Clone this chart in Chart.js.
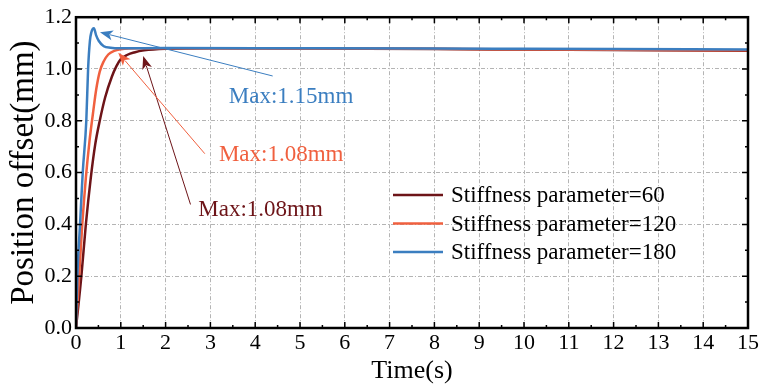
<!DOCTYPE html>
<html lang="en">
<head>
    <meta charset="UTF-8">
    <title>Position offset vs time</title>
    <style>
        body {
            margin: 0;
            background: #fff;
        }

        #wrap {
            width: 761px;
            height: 387px;
        }
    </style>
    <script src="https://cdn.jsdelivr.net/npm/chart.js"></script>
</head>
<body>
    <div id="wrap">
        <canvas id="offsetChart" width="761" height="387"></canvas>
    </div>

    <script>
        // Tick values
        var xTickValues = [0, 1, 2, 3, 4, 5, 6, 7, 8, 9, 10, 11, 12, 13, 14, 15];
        var yTickValues = [0, 0.2, 0.4, 0.6, 0.8, 1.0, 1.2];

        // Stiffness parameter = 60
        var t60 = [0, 0.12, 0.22, 0.33, 0.43, 0.53, 0.65, 0.8, 0.9, 1.0, 1.15, 1.3, 1.52, 2, 3, 5, 8, 10, 12, 15];
        var y60 = [0, 0.2, 0.4, 0.58, 0.71, 0.8, 0.89, 0.97, 1.01, 1.038, 1.055, 1.064, 1.072, 1.078, 1.08, 1.079, 1.077, 1.075, 1.073, 1.07];

        // Stiffness parameter = 120
        var t120 = [0, 0.07, 0.14, 0.22, 0.3, 0.38, 0.45, 0.53, 0.62, 0.72, 0.85, 1.0, 1.4, 2, 3, 5, 8, 10, 12, 15];
        var y120 = [0, 0.2, 0.4, 0.58, 0.72, 0.83, 0.92, 0.99, 1.03, 1.056, 1.07, 1.076, 1.08, 1.08, 1.08, 1.079, 1.078, 1.076, 1.074, 1.072];

        // Stiffness parameter = 180
        var t180 = [0, 0.03, 0.09, 0.15, 0.23, 0.27, 0.31, 0.34, 0.4, 0.45, 0.51, 0.62, 0.77, 1.0, 2, 5, 8, 10, 12, 15];
        var y180 = [0, 0.2, 0.4, 0.6, 0.8, 1.0, 1.108, 1.14, 1.157, 1.13, 1.108, 1.088, 1.082, 1.08, 1.081, 1.08, 1.079, 1.078, 1.077, 1.075];

        var seriesLabels = ['Stiffness parameter=60', 'Stiffness parameter=120', 'Stiffness parameter=180'];
        var seriesColors = ['#6d1418', '#f0603f', '#3b7ec0'];

        // Peak annotations: arrow tip, arrow tail, label anchor (data units)
        var maxLabels = ['Max:1.08mm', 'Max:1.08mm', 'Max:1.15mm'];
        var arrowTipX = [1.5, 0.943, 0.535];
        var arrowTipY = [1.05, 1.063, 1.142];
        var arrowTailX = [2.556, 2.875, 4.39];
        var arrowTailY = [0.477, 0.673, 0.973];
        var labelX = [2.73, 3.19, 3.41];
        var labelY = [0.431, 0.646, 0.870];

        var serif = "'Liberation Serif', 'Times New Roman', serif";

        function toPoints(ts, ys) {
            return ts.map(function (t, i) { return { x: t, y: ys[i] }; });
        }

        var allT = [t60, t120, t180];
        var allY = [y60, y120, y180];

        var datasets = seriesLabels.map(function (label, i) {
            return {
                label: label,
                data: toPoints(allT[i], allY[i]),
                borderColor: seriesColors[i],
                borderWidth: 2.5,
                pointRadius: 0,
                fill: false,
                cubicInterpolationMode: 'monotone',
                order: 2 - i
            };
        });

        // frame, inward ticks, arrows, labels and legend
        var decorations = {
            id: 'decorations',
            afterDraw: function (chart) {
                var ctx = chart.ctx;
                var xs = chart.scales.x;
                var ys = chart.scales.y;
                var a = chart.chartArea;

                ctx.save();

                // inward ticks on all four sides
                ctx.strokeStyle = '#000';
                ctx.lineWidth = 1.5;
                ctx.beginPath();
                for (var v = 0; v <= 15.001; v += 0.5) {
                    var px = xs.getPixelForValue(v);
                    var len = Math.abs(v - Math.round(v)) < 0.01 ? 6 : 3;
                    ctx.moveTo(px, a.bottom); ctx.lineTo(px, a.bottom - len);
                    ctx.moveTo(px, a.top); ctx.lineTo(px, a.top + len);
                }
                for (var k = 0; k <= 12; k++) {
                    var py = ys.getPixelForValue(k / 10);
                    var ylen = k % 2 === 0 ? 6 : 3;
                    ctx.moveTo(a.left, py); ctx.lineTo(a.left + ylen, py);
                    ctx.moveTo(a.right, py); ctx.lineTo(a.right - ylen, py);
                }
                ctx.stroke();

                // frame
                ctx.lineWidth = 2.5;
                ctx.strokeRect(a.left, a.top, a.right - a.left, a.bottom - a.top);

                // arrows and peak labels
                ctx.font = '23px ' + serif;
                ctx.textBaseline = 'alphabetic';
                ctx.textAlign = 'left';
                for (var i = 0; i < maxLabels.length; i++) {
                    var tx = xs.getPixelForValue(arrowTipX[i]);
                    var ty = ys.getPixelForValue(arrowTipY[i]);
                    var sx = xs.getPixelForValue(arrowTailX[i]);
                    var sy = ys.getPixelForValue(arrowTailY[i]);
                    var ang = Math.atan2(ty - sy, tx - sx);
                    var headLen = 13, headW = 5;

                    ctx.strokeStyle = seriesColors[i];
                    ctx.fillStyle = seriesColors[i];
                    ctx.lineWidth = 1;
                    ctx.beginPath();
                    ctx.moveTo(sx, sy);
                    ctx.lineTo(tx - Math.cos(ang) * headLen * 0.8, ty - Math.sin(ang) * headLen * 0.8);
                    ctx.stroke();

                    ctx.beginPath();
                    ctx.moveTo(tx, ty);
                    ctx.lineTo(tx - Math.cos(ang) * headLen - Math.sin(ang) * headW,
                               ty - Math.sin(ang) * headLen + Math.cos(ang) * headW);
                    ctx.lineTo(tx - Math.cos(ang) * headLen * 0.75, ty - Math.sin(ang) * headLen * 0.75);
                    ctx.lineTo(tx - Math.cos(ang) * headLen + Math.sin(ang) * headW,
                               ty - Math.sin(ang) * headLen - Math.cos(ang) * headW);
                    ctx.closePath();
                    ctx.fill();

                    ctx.fillText(maxLabels[i], xs.getPixelForValue(labelX[i]), ys.getPixelForValue(labelY[i]));
                }

                // legend
                var lx = 393, rowY = [195, 223.5, 252];
                ctx.textBaseline = 'middle';
                for (var j = 0; j < seriesLabels.length; j++) {
                    ctx.strokeStyle = seriesColors[j];
                    ctx.lineWidth = 2.5;
                    ctx.beginPath();
                    ctx.moveTo(lx, rowY[j]);
                    ctx.lineTo(lx + 50, rowY[j]);
                    ctx.stroke();
                    ctx.fillStyle = '#000';
                    ctx.fillText(seriesLabels[j], lx + 58, rowY[j] + 1);
                }

                ctx.restore();
            }
        };

        var chart = new Chart(document.getElementById('offsetChart').getContext('2d'), {
            type: 'line',
            data: { datasets: datasets },
            options: {
                responsive: false,
                animation: false,
                devicePixelRatio: 1,
                layout: { padding: { top: 16, right: 12, left: 0, bottom: 0 } },
                plugins: {
                    legend: { display: false },
                    tooltip: { enabled: false }
                },
                scales: {
                    x: {
                        type: 'linear',
                        min: 0,
                        max: 15,
                        afterBuildTicks: function (scale) {
                            scale.ticks = xTickValues.map(function (v) { return { value: v }; });
                        },
                        afterFit: function (scale) { scale.height = 59; },
                        ticks: {
                            color: '#000',
                            padding: 2,
                            maxRotation: 0,
                            autoSkip: false,
                            font: { family: serif, size: 22 }
                        },
                        grid: { color: '#b4b4b4', lineWidth: 1, drawTicks: false },
                        border: { display: false, dash: [4, 2, 1, 2] },
                        title: {
                            display: true,
                            text: 'Time(s)',
                            color: '#000',
                            padding: { top: 0, bottom: 0 },
                            font: { family: serif, size: 26 }
                        }
                    },
                    y: {
                        type: 'linear',
                        min: 0,
                        max: 1.2,
                        afterBuildTicks: function (scale) {
                            scale.ticks = yTickValues.map(function (v) { return { value: v }; });
                        },
                        afterFit: function (scale) { scale.width = 76; },
                        ticks: {
                            color: '#000',
                            padding: 4,
                            autoSkip: false,
                            font: { family: serif, size: 22 },
                            callback: function (v) { return Number(v).toFixed(1); }
                        },
                        grid: { color: '#b4b4b4', lineWidth: 1, drawTicks: false },
                        border: { display: false, dash: [4, 2, 1, 2] },
                        title: {
                            display: true,
                            text: 'Position offset(mm)',
                            color: '#000',
                            padding: { top: 5, bottom: 0 },
                            font: { family: serif, size: 33 }
                        }
                    }
                }
            },
            plugins: [decorations]
        });
    </script>
</body>
</html>
